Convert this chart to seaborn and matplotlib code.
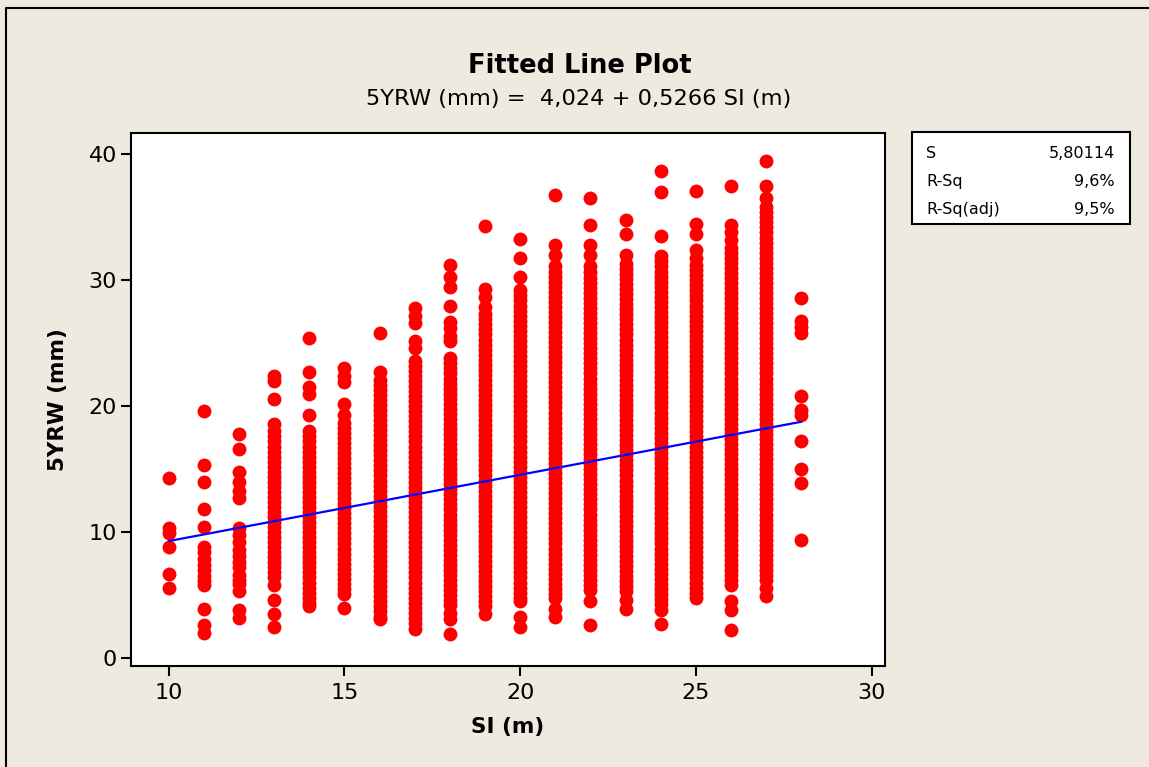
import numpy as np
import pandas as pd
import seaborn as sns
import matplotlib.pyplot as plt
from matplotlib.patches import Rectangle
from matplotlib.lines import Line2D

# 5-year radial width (mm) per site index class
# (the solid bands are read top to bottom at roughly marker-overlap spacing)
si_10 = [14.3, 10.3, 9.9, 8.8, 6.7, 5.6]
si_11 = [19.6, 15.3, 14.0, 11.8, 10.4, 8.8, 8.4, 7.9, 7.4, 7.0, 6.5, 6.1, 5.8, 3.9, 2.6, 2.0]
si_12 = [17.8, 16.6, 14.8, 14.0, 13.3, 12.7, 10.3, 9.8, 9.2, 8.6, 8.1, 7.6, 7.2, 6.6, 6.2,
         5.9, 5.3, 3.8, 3.2]
si_13 = [22.4, 22.0, 20.6, 18.6, 18.0, 17.6, 17.2, 16.8, 16.4, 16.0, 15.6, 15.2, 14.8, 14.4,
         14.0, 13.6, 13.2, 12.8, 12.4, 12.0, 11.6, 11.2, 10.8, 10.4, 10.0, 9.6, 9.2, 8.8, 8.4,
         8.0, 7.6, 7.2, 6.8, 6.4, 5.8, 4.6, 3.5, 2.5]
si_14 = [25.4, 22.7, 21.5, 21.0, 19.3, 18.0, 17.6, 17.2, 16.8, 16.4, 16.0, 15.6, 15.2, 14.8,
         14.4, 14.0, 13.6, 13.2, 12.8, 12.4, 12.0, 11.6, 11.2, 10.8, 10.4, 10.0, 9.6, 9.2, 8.8,
         8.4, 8.0, 7.6, 7.2, 6.8, 6.4, 6.0, 5.6, 5.2, 4.8, 4.4, 4.1]
si_15 = [23.0, 22.4, 21.9, 20.2, 19.3, 18.7, 18.3, 17.9, 17.5, 17.1, 16.7, 16.3, 15.9, 15.5,
         15.1, 14.7, 14.3, 13.9, 13.5, 13.1, 12.7, 12.3, 11.9, 11.5, 11.1, 10.7, 10.3, 9.9, 9.5,
         9.1, 8.7, 8.3, 7.9, 7.5, 7.1, 6.7, 6.3, 5.9, 5.5, 5.1, 4.0]
si_16 = [25.8, 22.7, 22.1, 21.7, 21.3, 20.9, 20.5, 20.1, 19.7, 19.3, 18.9, 18.5, 18.1, 17.7,
         17.3, 16.9, 16.5, 16.1, 15.7, 15.3, 14.9, 14.5, 14.1, 13.7, 13.3, 12.9, 12.5, 12.1,
         11.7, 11.3, 10.9, 10.5, 10.1, 9.7, 9.3, 8.9, 8.5, 8.1, 7.7, 7.3, 6.9, 6.5, 6.1, 5.7,
         5.3, 4.9, 4.5, 4.1, 3.7, 3.3, 3.1]
si_17 = [27.8, 27.2, 26.6, 25.2, 24.6, 23.6, 23.2, 22.8, 22.4, 22.0, 21.6, 21.2, 20.8, 20.4,
         20.0, 19.6, 19.2, 18.8, 18.4, 18.0, 17.6, 17.2, 16.8, 16.4, 16.0, 15.6, 15.2, 14.8,
         14.4, 14.0, 13.6, 13.2, 12.8, 12.4, 12.0, 11.6, 11.2, 10.8, 10.4, 10.0, 9.6, 9.2, 8.8,
         8.4, 8.0, 7.6, 7.2, 6.8, 6.4, 6.0, 5.6, 5.2, 4.8, 4.4, 4.0, 3.6, 3.2, 2.8, 2.3]
si_18 = [31.2, 30.3, 29.5, 28.0, 26.7, 26.2, 25.6, 25.2, 23.8, 23.4, 23.0, 22.6, 22.2, 21.8,
         21.4, 21.0, 20.6, 20.2, 19.8, 19.4, 19.0, 18.6, 18.2, 17.8, 17.4, 17.0, 16.6, 16.2,
         15.8, 15.4, 15.0, 14.6, 14.2, 13.8, 13.4, 13.0, 12.6, 12.2, 11.8, 11.4, 11.0, 10.6,
         10.2, 9.8, 9.4, 9.0, 8.6, 8.2, 7.8, 7.4, 7.0, 6.6, 6.2, 5.8, 5.4, 5.0, 4.6, 4.2, 3.6,
         3.1, 1.9]
si_19 = [34.3, 29.3, 28.7, 27.9, 27.3, 26.9, 26.5, 26.1, 25.7, 25.3, 24.9, 24.5, 24.1, 23.7,
         23.3, 22.9, 22.5, 22.1, 21.7, 21.3, 20.9, 20.5, 20.1, 19.7, 19.3, 18.9, 18.5, 18.1,
         17.7, 17.3, 16.9, 16.5, 16.1, 15.7, 15.3, 14.9, 14.5, 14.1, 13.7, 13.3, 12.9, 12.5,
         12.1, 11.7, 11.3, 10.9, 10.5, 10.1, 9.7, 9.3, 8.9, 8.5, 8.1, 7.7, 7.3, 6.9, 6.5, 6.1,
         5.7, 5.3, 4.9, 4.5, 4.1, 3.5]
si_20 = [33.3, 31.8, 30.3, 29.2, 28.8, 28.4, 28.0, 27.6, 27.2, 26.8, 26.4, 26.0, 25.6, 25.2,
         24.8, 24.4, 24.0, 23.6, 23.2, 22.8, 22.4, 22.0, 21.6, 21.2, 20.8, 20.4, 20.0, 19.6,
         19.2, 18.8, 18.4, 18.0, 17.6, 17.2, 16.8, 16.4, 16.0, 15.6, 15.2, 14.8, 14.4, 14.0,
         13.6, 13.2, 12.8, 12.4, 12.0, 11.6, 11.2, 10.8, 10.4, 10.0, 9.6, 9.2, 8.8, 8.4, 8.0,
         7.6, 7.2, 6.8, 6.4, 6.0, 5.6, 5.2, 4.8, 4.5, 3.3, 2.5]
si_21 = [36.8, 32.8, 32.0, 31.1, 30.7, 30.3, 29.9, 29.5, 29.1, 28.7, 28.3, 27.9, 27.5, 27.1,
         26.7, 26.3, 25.9, 25.5, 25.1, 24.7, 24.3, 23.9, 23.5, 23.1, 22.7, 22.3, 21.9, 21.5,
         21.1, 20.7, 20.3, 19.9, 19.5, 19.1, 18.7, 18.3, 17.9, 17.5, 17.1, 16.7, 16.3, 15.9,
         15.5, 15.1, 14.7, 14.3, 13.9, 13.5, 13.1, 12.7, 12.3, 11.9, 11.5, 11.1, 10.7, 10.3,
         9.9, 9.5, 9.1, 8.7, 8.3, 7.9, 7.5, 7.1, 6.7, 6.3, 5.9, 5.5, 5.1, 4.8, 3.9, 3.3]
si_22 = [36.5, 34.4, 32.8, 32.0, 31.1, 30.7, 30.2, 29.8, 29.4, 29.0, 28.6, 28.2, 27.8, 27.4,
         27.0, 26.6, 26.2, 25.8, 25.4, 25.0, 24.6, 24.2, 23.8, 23.4, 23.0, 22.6, 22.2, 21.8,
         21.4, 21.0, 20.6, 20.2, 19.8, 19.4, 19.0, 18.6, 18.2, 17.8, 17.4, 17.0, 16.6, 16.2,
         15.8, 15.4, 15.0, 14.6, 14.2, 13.8, 13.4, 13.0, 12.6, 12.2, 11.8, 11.4, 11.0, 10.6,
         10.2, 9.8, 9.4, 9.0, 8.6, 8.2, 7.8, 7.4, 7.0, 6.6, 6.2, 5.8, 5.4, 4.5, 2.6]
si_23 = [34.8, 33.7, 32.0, 31.3, 30.9, 30.5, 30.1, 29.7, 29.3, 28.9, 28.5, 28.1, 27.7, 27.3,
         26.9, 26.5, 26.1, 25.7, 25.3, 24.9, 24.5, 24.1, 23.7, 23.3, 22.9, 22.5, 22.1, 21.7,
         21.3, 20.9, 20.5, 20.1, 19.7, 19.3, 18.9, 18.5, 18.1, 17.7, 17.3, 16.9, 16.5, 16.1,
         15.7, 15.3, 14.9, 14.5, 14.1, 13.7, 13.3, 12.9, 12.5, 12.1, 11.7, 11.3, 10.9, 10.5,
         10.1, 9.7, 9.3, 8.9, 8.5, 8.1, 7.7, 7.3, 6.9, 6.5, 6.1, 5.7, 5.3, 4.6, 3.9]
si_24 = [38.7, 37.0, 33.5, 31.9, 31.5, 31.1, 30.7, 30.3, 29.9, 29.5, 29.1, 28.7, 28.3, 27.9,
         27.5, 27.1, 26.7, 26.3, 25.9, 25.5, 25.1, 24.7, 24.3, 23.9, 23.5, 23.1, 22.7, 22.3,
         21.9, 21.5, 21.1, 20.7, 20.3, 19.9, 19.5, 19.1, 18.7, 18.3, 17.9, 17.5, 17.1, 16.7,
         16.3, 15.9, 15.5, 15.1, 14.7, 14.3, 13.9, 13.5, 13.1, 12.7, 12.3, 11.9, 11.5, 11.1,
         10.7, 10.3, 9.9, 9.5, 9.1, 8.7, 8.3, 7.9, 7.5, 7.1, 6.7, 6.3, 5.9, 5.5, 5.1, 4.7, 4.3,
         3.8, 2.7]
si_25 = [37.1, 34.5, 33.7, 32.4, 31.8, 31.2, 30.8, 30.4, 30.0, 29.6, 29.2, 28.8, 28.4, 28.0,
         27.6, 27.2, 26.8, 26.4, 26.0, 25.6, 25.2, 24.8, 24.4, 24.0, 23.6, 23.2, 22.8, 22.4,
         22.0, 21.6, 21.2, 20.8, 20.4, 20.0, 19.6, 19.2, 18.8, 18.4, 18.0, 17.6, 17.2, 16.8,
         16.4, 16.0, 15.6, 15.2, 14.8, 14.4, 14.0, 13.6, 13.2, 12.8, 12.4, 12.0, 11.6, 11.2,
         10.8, 10.4, 10.0, 9.6, 9.2, 8.8, 8.4, 8.0, 7.6, 7.2, 6.8, 6.4, 6.0, 5.6, 5.2, 4.8]
si_26 = [37.5, 34.4, 33.8, 33.2, 32.6, 32.2, 31.8, 31.4, 31.0, 30.6, 30.2, 29.8, 29.4, 29.0,
         28.6, 28.2, 27.8, 27.4, 27.0, 26.6, 26.2, 25.8, 25.4, 25.0, 24.6, 24.2, 23.8, 23.4,
         23.0, 22.6, 22.2, 21.8, 21.4, 21.0, 20.6, 20.2, 19.8, 19.4, 19.0, 18.6, 18.2, 17.8,
         17.4, 17.0, 16.6, 16.2, 15.8, 15.4, 15.0, 14.6, 14.2, 13.8, 13.4, 13.0, 12.6, 12.2,
         11.8, 11.4, 11.0, 10.6, 10.2, 9.8, 9.4, 9.0, 8.6, 8.2, 7.8, 7.4, 7.0, 6.6, 6.2, 5.8,
         4.5, 3.8, 2.2]
si_27 = [39.5, 37.5, 36.5, 35.8, 35.4, 35.0, 34.6, 34.2, 33.8, 33.4, 33.0, 32.6, 32.2, 31.8,
         31.4, 31.0, 30.6, 30.2, 29.8, 29.4, 29.0, 28.6, 28.2, 27.8, 27.4, 27.0, 26.6, 26.2,
         25.8, 25.4, 25.0, 24.6, 24.2, 23.8, 23.4, 23.0, 22.6, 22.2, 21.8, 21.4, 21.0, 20.6,
         20.2, 19.8, 19.4, 19.0, 18.6, 18.2, 17.8, 17.4, 17.0, 16.6, 16.2, 15.8, 15.4, 15.0,
         14.6, 14.2, 13.8, 13.4, 13.0, 12.6, 12.2, 11.8, 11.4, 11.0, 10.6, 10.2, 9.8, 9.4, 9.0,
         8.6, 8.2, 7.8, 7.4, 7.0, 6.6, 6.2, 5.6, 4.9]
si_28 = [28.6, 26.8, 26.3, 25.8, 20.8, 19.7, 19.3, 17.2, 15.0, 13.9, 9.4]

columns = {10: si_10, 11: si_11, 12: si_12, 13: si_13, 14: si_14, 15: si_15, 16: si_16,
           17: si_17, 18: si_18, 19: si_19, 20: si_20, 21: si_21, 22: si_22, 23: si_23,
           24: si_24, 25: si_25, 26: si_26, 27: si_27, 28: si_28}

# fitted model as reported by Minitab
intercept = 4.024
slope = 0.5266
stats_labels = ["S", "R-Sq", "R-Sq(adj)"]
stats_values = ["5,80114", "9,6%", "9,5%"]

df = pd.DataFrame(
    [(si, y) for si, ys in columns.items() for y in ys], columns=["SI", "YRW"]
)
fit = pd.DataFrame({"SI": [df["SI"].min(), df["SI"].max()]})
fit["YRW"] = intercept + slope * fit["SI"]

bg = "#EEEAE0"
W, H = 1149, 767

sns.set_style("ticks")
plt.rcParams["font.family"] = ["DejaVu Sans"]
plt.rcParams["text.color"] = "black"
plt.rcParams["axes.labelcolor"] = "black"
plt.rcParams["xtick.color"] = "black"
plt.rcParams["ytick.color"] = "black"

fig = plt.figure(figsize=(W / 100, H / 100), dpi=100, facecolor=bg)
ax = fig.add_axes([131 / W, 1 - 666 / H, 754 / W, 533 / H])
ax.set_facecolor("white")

sns.scatterplot(data=df, x="SI", y="YRW", color="#FF0000", s=100, linewidth=0,
                ax=ax, zorder=2)
sns.lineplot(data=fit, x="SI", y="YRW", color="#0000FF", linewidth=1.6, ax=ax, zorder=3)

ax.set_xlim(8.93, 30.38)
ax.set_ylim(-0.63, 41.7)
ax.set_xticks([10, 15, 20, 25, 30])
ax.set_yticks([0, 10, 20, 30, 40])
ax.tick_params(axis="both", direction="out", length=7, width=1.5, colors="black",
               labelsize=16)
ax.tick_params(axis="x", pad=5)
ax.tick_params(axis="y", pad=3)
for sp in ax.spines.values():
    sp.set_visible(True)
    sp.set_linewidth(1.5)
    sp.set_color("black")

ax.set_xlabel("SI (m)", fontsize=15.5, fontweight="bold", color="black")
ax.set_ylabel("5YRW (mm)", fontsize=15.5, fontweight="bold", color="black")
ax.xaxis.set_label_coords(0.5, -0.095)
ax.yaxis.set_label_coords(-0.083, 0.5)

fig.text(580 / W, 1 - 73 / H, "Fitted Line Plot", fontsize=18.5, fontweight="bold",
         ha="center", va="baseline", color="black")
fig.text(579 / W, 1 - 105 / H, "5YRW (mm) =  4,024 + 0,5266 SI (m)", fontsize=16.2,
         ha="center", va="baseline", color="black")

# stats box
fig.add_artist(Rectangle((912 / W, 1 - 224 / H), 218 / W, 92 / H, transform=fig.transFigure,
                         facecolor="white", edgecolor="black", linewidth=1.5))
for i, (lab, val) in enumerate(zip(stats_labels, stats_values)):
    yb = 1 - (158 + 28 * i) / H
    fig.text(926 / W, yb, lab, fontsize=11.5, ha="left", va="baseline", color="black")
    fig.text(1115 / W, yb, val, fontsize=11.5, ha="right", va="baseline", color="black")

# window frame (left and top edges)
fig.add_artist(Line2D([6 / W, 6 / W, 1], [0, 1 - 8 / H, 1 - 8 / H], transform=fig.transFigure,
                      color="black", linewidth=1.5))

fig.savefig("out.png", dpi=100, facecolor=fig.get_facecolor())
